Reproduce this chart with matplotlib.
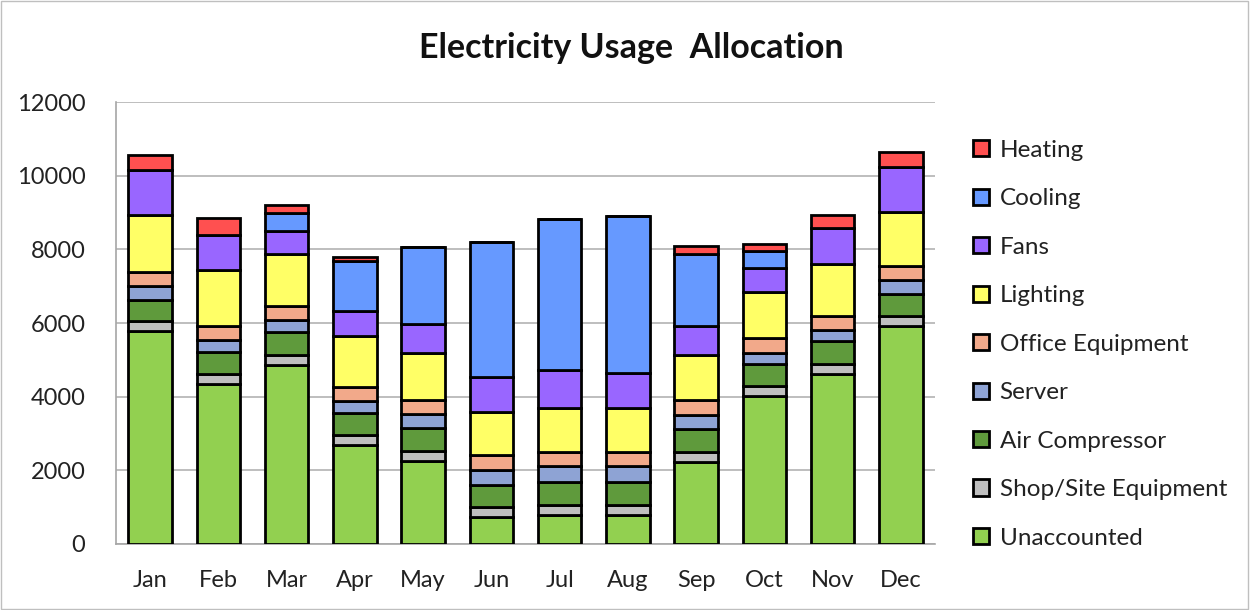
import matplotlib
matplotlib.use("Agg")
import matplotlib.pyplot as plt
import numpy as np

months = ["Jan", "Feb", "Mar", "Apr", "May", "Jun", "Jul", "Aug", "Sep", "Oct", "Nov", "Dec"]

# stacked bottom -> top
unaccounted = [5780, 4340, 4860, 2700, 2260, 730, 800, 800, 2230, 4010, 4620, 5910]
shop_site   = [280, 280, 280, 250, 270, 270, 270, 270, 280, 270, 280, 270]
air_comp    = [570, 600, 610, 610, 610, 600, 600, 600, 600, 610, 610, 600]
server      = [370, 320, 320, 310, 380, 420, 450, 450, 380, 300, 300, 390]
office      = [380, 380, 390, 390, 390, 390, 380, 380, 420, 390, 390, 370]
lighting    = [1560, 1510, 1420, 1400, 1280, 1170, 1190, 1190, 1220, 1260, 1390, 1480]
fans        = [1220, 960, 630, 660, 790, 960, 1040, 940, 780, 660, 1000, 1210]
cooling     = [0, 0, 480, 1350, 2080, 3660, 4080, 4270, 1970, 450, 0, 0]
heating     = [390, 460, 210, 130, 0, 0, 0, 0, 210, 200, 340, 420]

series = [
    ("Unaccounted", unaccounted, "#92D050"),
    ("Shop/Site Equipment", shop_site, "#BFBFBF"),
    ("Air Compressor", air_comp, "#5F9A3C"),
    ("Server", server, "#8EA3D4"),
    ("Office Equipment", office, "#F2A98A"),
    ("Lighting", lighting, "#FFFF66"),
    ("Fans", fans, "#9966FF"),
    ("Cooling", cooling, "#6699FF"),
    ("Heating", heating, "#FF5050"),
]

plt.rcParams['font.family'] = ['Lato', 'DejaVu Sans']

fig = plt.figure(figsize=(12.51, 6.10), dpi=100)
ax = fig.add_axes([116/1251, 1-544/610, (935-116)/1251, (544-102)/610])

x = np.arange(len(months))
bottom = np.zeros(len(months))
handles = []
for name, vals, col in series:
    v = np.array(vals, dtype=float)
    b = ax.bar(x, v, width=0.64, bottom=bottom, color=col, edgecolor="black",
               linewidth=2.0, label=name, zorder=3)
    handles.append(b)
    bottom += v

ax.set_xlim(-0.5, 11.5)
ax.set_ylim(0, 12000)
ax.set_yticks(np.arange(0, 12001, 2000))
ax.set_xticks(x)
ax.set_xticklabels(months)
ax.tick_params(axis='both', labelsize=17, length=0, colors="#222222")
ax.tick_params(axis='y', pad=22)
ax.tick_params(axis='x', pad=19)
ax.yaxis.grid(True, color="#b3b3b3", linewidth=1.2, zorder=0)
for s in ["top", "right"]:
    ax.spines[s].set_visible(False)
for s in ["left", "bottom"]:
    ax.spines[s].set_color("#a6a6a6")
    ax.spines[s].set_linewidth(1.2)

fig.text(631/1251, 1-48/610, "Electricity Usage  Allocation", ha="center", va="center",
         fontsize=24.5, fontweight="bold", color="#111111")

leg = fig.legend(handles[::-1], [s[0] for s in series][::-1], loc="upper left",
                 bbox_to_anchor=(951/1251, 1-118/610), frameon=False, fontsize=17.5,
                 handlelength=0.65, handleheight=0.65, handletextpad=0.45,
                 labelspacing=1.13)
for t in leg.get_texts():
    t.set_color("#222222")
for h in leg.legend_handles:
    h.set_linewidth(2.0)

# outer border
fig.patches.append(plt.Rectangle((0.001, 0.002), 0.997, 0.996, transform=fig.transFigure,
                                 fill=False, edgecolor="#bfbfbf", linewidth=1.0))

fig.savefig("out.png", dpi=100)
